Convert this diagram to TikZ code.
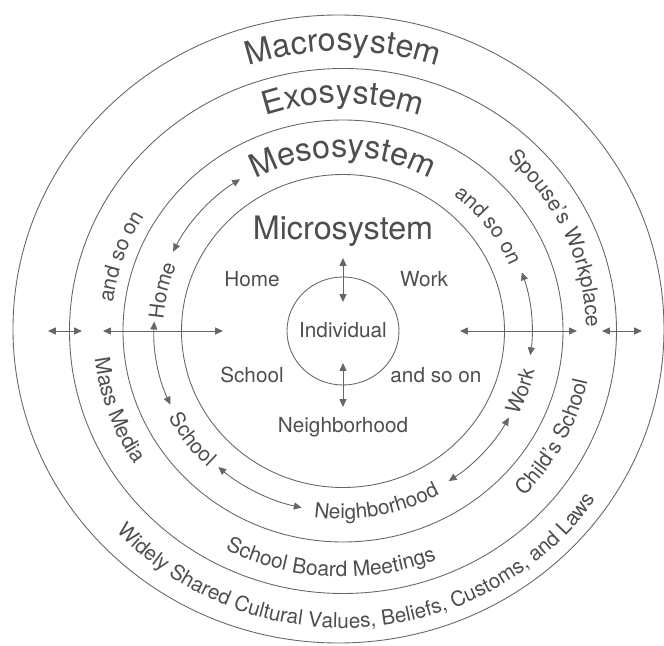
\documentclass[tikz,border=0pt]{standalone}
\usepackage{fontspec}
\setmainfont{TeX Gyre Heros}
\usetikzlibrary{arrows.meta, decorations.text}
\definecolor{RingLine}{HTML}{666666}
\definecolor{RingText}{HTML}{4E4E4E}
\newcommand\bigfnt{\fontsize{18.4}{20}\selectfont}
\newcommand\smallfnt{\fontsize{11.8}{13}\selectfont}
\newcommand\ringfnt{\fontsize{12}{14}\selectfont}

\begin{document}
\begin{tikzpicture}[x=0.02cm, y=0.02cm,
  ring/.style={draw=RingLine, line width=0.5pt},
  lab/.style={text=RingText, font=\smallfnt, inner sep=0pt, anchor=base},
  biglab/.style={lab, font=\bigfnt},
  dbl/.style={draw=RingLine, line width=0.5pt, <->},
  arctext/.style={decorate, decoration={text along path, text align=center,
      text color=RingText, text={#1}}},
  >={Triangle[length=4.5pt, width=4pt]}]
\useasboundingbox (-343,-315) rectangle (321,331);

\draw[ring] (-4.5,2) ellipse[x radius=325.5, y radius=314];
\draw[ring] (0,0) ellipse[x radius=273.5, y radius=262.5];
\draw[ring] (0,0) ellipse[x radius=220, y radius=211];
\draw[ring] (0,0) ellipse[x radius=161.5, y radius=156.5];
\draw[ring] (0,0) ellipse[x radius=56, y radius=54];

\path[arctext={|\bigfnt|Macrosystem}] (125:291 and 280) arc[start angle=125, end angle=55, x radius=291, y radius=280];
\path[arctext={|\bigfnt|Exosystem}] (125:237 and 228) arc[start angle=125, end angle=55, x radius=237, y radius=228];
\path[arctext={|\bigfnt|Mesosystem}] (135:181 and 174) arc[start angle=135, end angle=45, x radius=181, y radius=174];

\node[biglab] (micro) at (0,91) {Microsystem};
\node[lab] (home) at (-91,44) {Home};
\node[lab] (work) at (81,44) {Work};
\node[lab] (school) at (-91,-52) {School};
\node[lab] (soon) at (93,-52) {and so on};
\node[lab] (nbhd) at (0,-102) {Neighborhood};
\node[lab] (indiv) at (0,-7) {Individual};

\path[arctext={|\smallfnt|Home}] (197:180 and 172) arc[start angle=197, end angle=137, x radius=180, y radius=172];
\path[arctext={|\smallfnt|and so on}] (67:180 and 172) arc[start angle=67, end angle=7, x radius=180, y radius=172];
\path[arctext={|\smallfnt|School}] (186.7:196 and 188) arc[start angle=186.7, end angle=246.7, x radius=196, y radius=188];
\path[arctext={|\smallfnt|Neighborhood}] (250.6:196 and 188) arc[start angle=250.6, end angle=310.6, x radius=196, y radius=188];
\path[arctext={|\smallfnt|Work}] (310.7:196 and 188) arc[start angle=310.7, end angle=370.7, x radius=196, y radius=188];

\path[arctext={|\ringfnt|and so on}] (191:232 and 223) arc[start angle=191, end angle=131, x radius=232, y radius=223];
\path[arctext={|\ringfnt|Spouse's Workplace}] (64:243 and 234) arc[start angle=64, end angle=-16, x radius=243, y radius=234];
\path[arctext={|\ringfnt|Mass Media}] (170:250 and 240) arc[start angle=170, end angle=230, x radius=250, y radius=240];
\path[arctext={|\ringfnt|School Board Meetings}] (227:256 and 246) arc[start angle=227, end angle=307, x radius=256, y radius=246];
\path[arctext={|\ringfnt|Child's School}] (292.6:250 and 240) arc[start angle=292.6, end angle=372.6, x radius=250, y radius=240];

\path[arctext={|\smallfnt|Widely Shared Cultural Values, Beliefs, Customs, and Laws}] (204:307 and 297) arc[start angle=204, end angle=344, x radius=307, y radius=297];

\draw[dbl] (123:189 and 181) arc[start angle=123, end angle=154, x radius=189, y radius=181];
\draw[dbl] (177:189 and 181) arc[start angle=177, end angle=204, x radius=189, y radius=181];
\draw[dbl] (228.7:189 and 181) arc[start angle=228.7, end angle=257.4, x radius=189, y radius=181];
\draw[dbl] (304:189 and 181) arc[start angle=304, end angle=331.4, x radius=189, y radius=181];
\draw[dbl] (352.3:189 and 181) arc[start angle=352.3, end angle=378.9, x radius=189, y radius=181];

\coordinate (up1) at (0,73);
\coordinate (up2) at (0,29);
\coordinate (dn1) at (0,-32);
\coordinate (dn2) at (0,-76);
\coordinate (lo1) at (-295,0);
\coordinate (lo2) at (-261,0);
\coordinate (li1) at (-240,0);
\coordinate (li2) at (-120,0);
\coordinate (ri1) at (117,0);
\coordinate (ri2) at (234,0);
\coordinate (ro1) at (259,0);
\coordinate (ro2) at (299,0);
\draw[dbl] (up1) -- (up2);
\draw[dbl] (dn1) -- (dn2);
\draw[dbl] (lo1) -- (lo2);
\draw[dbl] (li1) -- (li2);
\draw[dbl] (ri1) -- (ri2);
\draw[dbl] (ro1) -- (ro2);
\end{tikzpicture}
\end{document}
